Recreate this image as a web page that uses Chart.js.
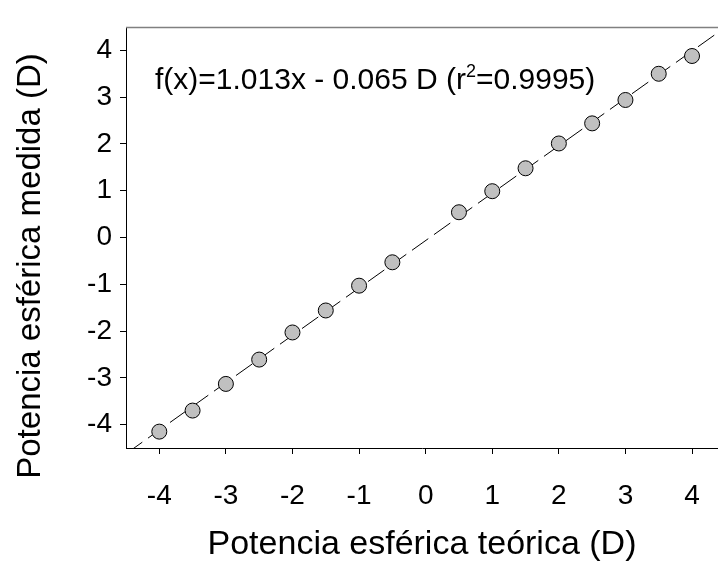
<!DOCTYPE html>
<html><head><meta charset="utf-8">
<script src="https://cdn.jsdelivr.net/npm/chart.js@4/dist/chart.umd.min.js"></script>
<style>html,body{margin:0;padding:0;background:#fff;overflow:hidden}</style>
</head><body>
<canvas id="c" width="718" height="563"></canvas>
<script>
// Data
const teorica = [-4, -3.5, -3, -2.5, -2, -1.5, -1, -0.5, 0.5, 1, 1.5, 2, 2.5, 3, 3.5, 4];
const medida  = [-4.15, -3.70, -3.13, -2.61, -2.03, -1.56, -1.03, -0.53, 0.54, 0.99, 1.48, 2.01, 2.44, 2.94, 3.50, 3.88];
const xTickValues = [-4, -3, -2, -1, 0, 1, 2, 3, 4];
const yTickValues = [-4, -3, -2, -1, 0, 1, 2, 3, 4];
const fitSlope = 1.013;
const fitIntercept = -0.065;
const fitText = "f(x)=1.013x - 0.065 D (r";
const fitSup = "2";
const fitTail = "=0.9995)";
const xTitle = "Potencia esférica teórica (D)";
const yTitle = "Potencia esférica medida (D)";

const X_MIN = -4.5, X_MAX = 4.39, Y_MIN = -4.5, Y_MAX = 4.5;
const FONT = "'Liberation Sans', Arial, sans-serif";

const fitLine = [X_MIN, 4.5].map(x => ({x: x, y: fitSlope * x + fitIntercept}));

const extras = {
  id: 'extras',
  afterDatasetsDraw(chart) {
    const {ctx, chartArea} = chart;
    ctx.save();
    ctx.strokeStyle = '#808080';
    ctx.lineWidth = 1.5;
    ctx.beginPath();
    ctx.moveTo(chartArea.left, chartArea.top + 0.5);
    ctx.lineTo(chartArea.right, chartArea.top + 0.5);
    ctx.stroke();
    // annotation
    ctx.fillStyle = '#000';
    ctx.textBaseline = 'alphabetic';
    ctx.font = "30px " + FONT;
    let x = 155, y = 89;
    ctx.fillText(fitText, x, y);
    x += ctx.measureText(fitText).width;
    ctx.font = "18px " + FONT;
    ctx.fillText(fitSup, x, y - 12);
    x += ctx.measureText(fitSup).width;
    ctx.font = "30px " + FONT;
    ctx.fillText(fitTail, x, y);
    // y axis title
    ctx.font = "33px " + FONT;
    ctx.textAlign = 'center';
    ctx.textBaseline = 'middle';
    ctx.translate(31, 266);
    ctx.rotate(-Math.PI / 2);
    ctx.fillText(yTitle, 0, 0);
    ctx.restore();
  }
};

new Chart(document.getElementById('c'), {
  data: {
    datasets: [
      {
        type: 'scatter',
        data: teorica.map((x, i) => ({x: x, y: medida[i]})),
        pointRadius: 7.5,
        pointHoverRadius: 7.5,
        backgroundColor: '#c0c0c0',
        borderColor: '#000',
        borderWidth: 1,
        order: 1
      },
      {
        type: 'line',
        data: fitLine,
        borderColor: '#000',
        borderWidth: 1,
        borderDash: [20, 7],
        pointRadius: 0,
        fill: false,
        order: 2
      }
    ]
  },
  options: {
    responsive: false,
    animation: false,
    events: [],
    layout: {autoPadding: false, padding: {top: 27, left: 0, right: 0, bottom: 0}},
    plugins: {legend: {display: false}, tooltip: {enabled: false}},
    scales: {
      x: {
        type: 'linear',
        min: X_MIN, max: X_MAX,
        afterBuildTicks: s => { s.ticks = xTickValues.map(v => ({value: v})); },
        afterFit: s => { s.height = 115; s.paddingLeft = 0; s.paddingRight = 0; },
        grid: {drawOnChartArea: false, color: '#000', tickLength: 6, tickColor: '#000'},
        border: {color: '#000', width: 1},
        ticks: {color: '#000', font: {family: FONT, size: 28}, padding: 25, maxRotation: 0,
                callback: v => String(v)},
        title: {display: true, text: xTitle, color: '#000', font: {family: FONT, size: 34}, padding: {top: 0, bottom: -2}}
      },
      y: {
        type: 'linear',
        min: Y_MIN, max: Y_MAX,
        afterBuildTicks: s => { s.ticks = yTickValues.map(v => ({value: v})); },
        afterFit: s => { s.width = 126; s.paddingTop = 0; s.paddingBottom = 0; },
        grid: {drawOnChartArea: false, color: '#000', tickLength: 6, tickColor: '#000'},
        border: {color: '#000', width: 1},
        ticks: {color: '#000', font: {family: FONT, size: 28}, padding: 8,
                callback: v => String(v)},
        title: {display: false}
      }
    }
  },
  plugins: [extras]
});
</script>
</body></html>
